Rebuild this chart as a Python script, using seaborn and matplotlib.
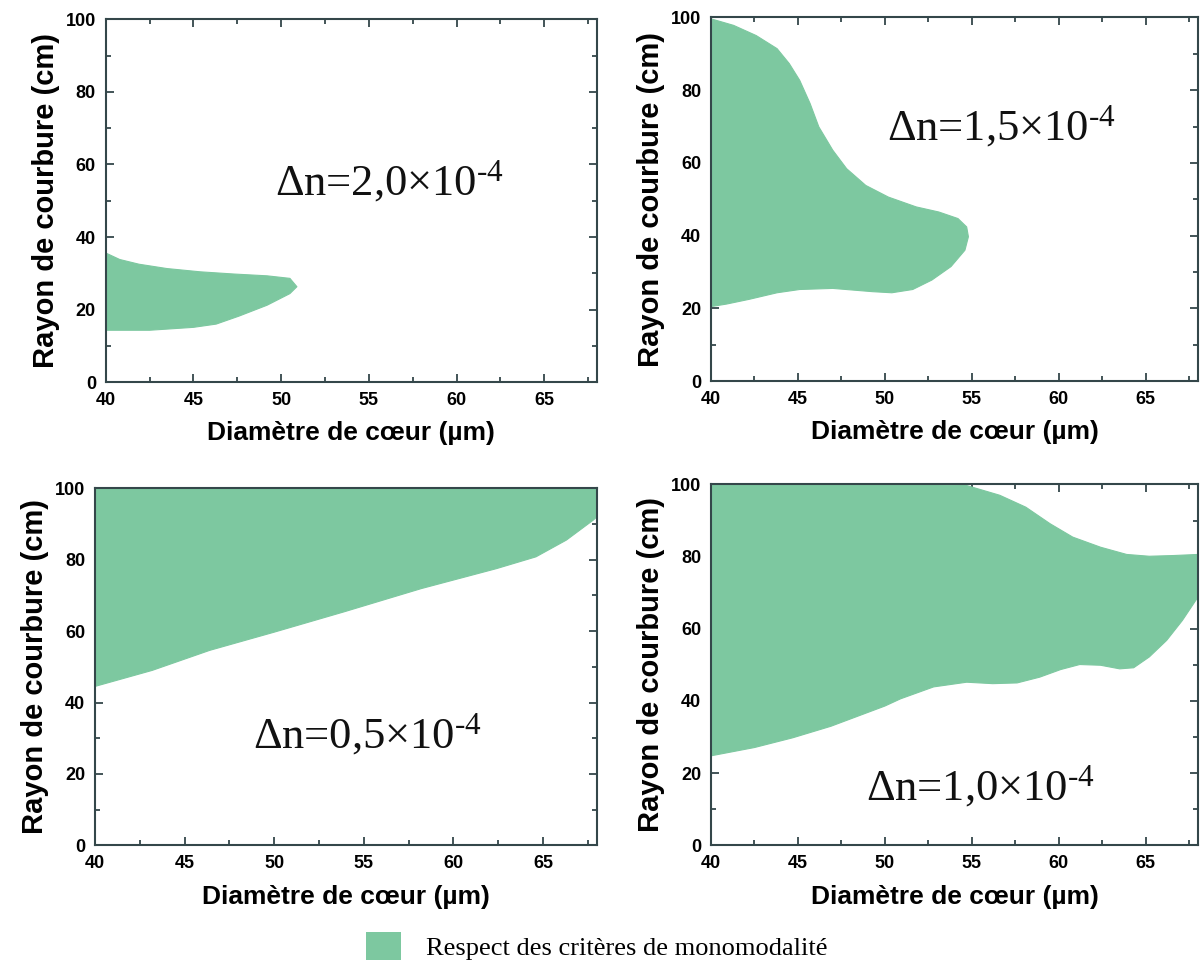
import numpy as np
import matplotlib
matplotlib.use("Agg")
import matplotlib.pyplot as plt
import seaborn as sns
from matplotlib.patches import Patch
from matplotlib.ticker import MultipleLocator

# ---- data ----
# Panel TL: dn = 2.0e-4
tl_up_x = [40, 40.8, 41.9, 43.5, 45.4, 47.3, 49.2, 50.5, 50.9]
tl_up_y = [35.6, 33.8, 32.5, 31.3, 30.4, 29.8, 29.3, 28.6, 26.3]
tl_lo_x = [40, 42.5, 45.0, 46.3, 47.6, 49.2, 50.5, 50.9]
tl_lo_y = [14.3, 14.3, 15.1, 16.0, 18.2, 21.2, 24.4, 26.3]

# Panel TR: dn = 1.5e-4
tr_up_x = [40, 41.3, 42.6, 43.8, 44.5, 45.1, 45.7, 46.2, 47.0, 47.8, 48.9, 50.2, 51.8, 53.1, 54.2, 54.7, 54.8]
tr_up_y = [99.6, 97.8, 95.0, 91.4, 87.3, 82.7, 76.3, 69.9, 63.5, 58.4, 53.8, 50.6, 47.9, 46.5, 44.7, 42.4, 39.7]
tr_lo_x = [40, 40.9, 42.2, 43.8, 45.1, 47.0, 49.3, 50.4, 51.6, 52.7, 53.8, 54.6, 54.8]
tr_lo_y = [20.5, 21.2, 22.5, 24.3, 25.2, 25.5, 24.6, 24.3, 25.2, 27.8, 31.5, 36.0, 39.7]

# Panel BL: dn = 0.5e-4
bl_up_x = [40, 68]
bl_up_y = [100, 100]
bl_lo_x = [40, 43.2, 46.4, 50.0, 53.9, 58.2, 62.4, 64.6, 66.3, 67.8, 68.0]
bl_lo_y = [44.5, 49.0, 54.6, 59.7, 65.4, 71.9, 77.5, 80.8, 85.5, 91.1, 92.0]

# Panel BR: dn = 1.0e-4
br_up_x = [40, 50.9, 54.7, 56.6, 58.1, 59.5, 60.8, 62.4, 63.9, 65.2, 66.6, 68.0]
br_up_y = [100, 100, 99.7, 97.0, 93.7, 89.1, 85.4, 82.6, 80.6, 80.1, 80.3, 80.6]
br_lo_x = [40, 42.5, 44.7, 46.9, 50.0, 50.9, 52.8, 54.7, 56.2, 57.6, 58.9, 60.1, 61.2, 62.4, 63.5, 64.3, 65.2, 66.2, 67.1, 68.0]
br_lo_y = [24.8, 27.1, 29.8, 33.0, 38.6, 40.6, 43.9, 45.2, 44.8, 45.0, 46.6, 48.7, 50.1, 49.9, 48.9, 49.2, 52.2, 56.8, 62.3, 68.8]

labels = ["Δn=2,0×10$^{\\mathrm{\u2010}4}$", "Δn=1,5×10$^{\\mathrm{\u2010}4}$",
          "Δn=0,5×10$^{\\mathrm{\u2010}4}$", "Δn=1,0×10$^{\\mathrm{\u2010}4}$"]
label_pos = [(56.2, 55.5), (56.7, 70.0), (55.2, 31.0), (55.5, 16.5)]

xlabel = "Diamètre de cœur (µm)"
ylabel = "Rayon de courbure (cm)"
legend_label = "Respect des critères de monomodalité"

# ---- style ----
sns.set_theme(style="ticks")
plt.rcParams['font.family'] = ['Liberation Sans', 'DejaVu Sans']
plt.rcParams['mathtext.fontset'] = 'custom'
plt.rcParams['mathtext.rm'] = 'Liberation Serif'
plt.rcParams['mathtext.it'] = 'Liberation Serif:italic'
plt.rcParams['mathtext.bf'] = 'Liberation Serif:bold'
plt.rcParams['text.color'] = 'black'
plt.rcParams['axes.labelcolor'] = 'black'
plt.rcParams['xtick.labelcolor'] = 'black'
plt.rcParams['ytick.labelcolor'] = 'black'

fill_color = "#7DC8A0"
spine_color = "#34474a"

fig = plt.figure(figsize=(12.01, 9.65), dpi=100)
rects = [
    (0.088, 0.604, 0.409, 0.376),
    (0.592, 0.605, 0.4055, 0.377),
    (0.079, 0.124, 0.418, 0.370),
    (0.592, 0.124, 0.4055, 0.374),
]
panels = [
    (tl_up_x, tl_up_y, tl_lo_x, tl_lo_y),
    (tr_up_x, tr_up_y, tr_lo_x, tr_lo_y),
    (bl_up_x, bl_up_y, bl_lo_x, bl_lo_y),
    (br_up_x, br_up_y, br_lo_x, br_lo_y),
]

for i, (rect, (ux, uy, lx, ly)) in enumerate(zip(rects, panels)):
    ax = fig.add_axes(rect)
    px = list(ux) + list(lx)[::-1]
    py = list(uy) + list(ly)[::-1]
    ax.fill(px, py, color=fill_color, linewidth=0.8, edgecolor=fill_color,
            joinstyle='round', zorder=1)
    ax.set_xlim(40, 68)
    ax.set_ylim(0, 100)
    ax.xaxis.set_major_locator(MultipleLocator(5))
    ax.xaxis.set_minor_locator(MultipleLocator(2.5))
    ax.yaxis.set_major_locator(MultipleLocator(20))
    ax.yaxis.set_minor_locator(MultipleLocator(10))
    ax.tick_params(which='both', direction='in', top=True, right=True,
                   color=spine_color, width=1.3)
    ax.tick_params(which='major', length=6, labelsize=13, pad=7)
    ax.tick_params(which='minor', length=3.5)
    for lab in ax.get_xticklabels() + ax.get_yticklabels():
        lab.set_fontweight('bold')
    for sp in ax.spines.values():
        sp.set_color(spine_color)
        sp.set_linewidth(1.5)
    ax.set_xlabel(xlabel, fontsize=19, fontweight='bold', labelpad=9)
    ax.set_ylabel(ylabel, fontsize=21, fontweight='bold', labelpad=4)
    ax.text(label_pos[i][0], label_pos[i][1], labels[i], fontsize=32,
            family='Liberation Serif', ha='center', va='center',
            color='#111111', zorder=3)

handle = Patch(facecolor=fill_color, edgecolor='none')
leg = fig.legend(handles=[handle], labels=[legend_label], loc='center',
                 bbox_to_anchor=(0.497, 0.0197), frameon=False,
                 prop={'family': 'Liberation Serif', 'size': 19},
                 handlelength=1.33, handleheight=1.25, handletextpad=0.95)

fig.savefig("out.png", dpi=100)
